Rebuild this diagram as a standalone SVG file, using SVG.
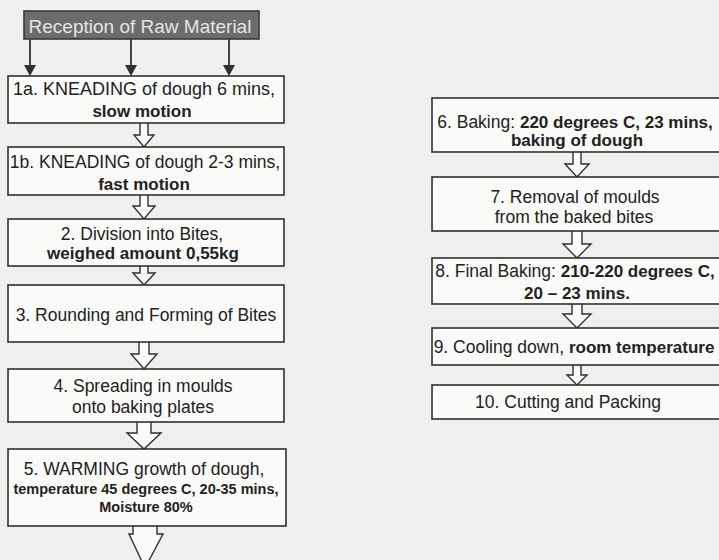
<svg xmlns="http://www.w3.org/2000/svg" width="719" height="560" viewBox="0 0 719 560">
<style>
.bg{fill:#efefed}
.box{fill:#fafaf8;stroke:#303030;stroke-width:1.6}
.hdr{fill:#6c6c6c;stroke:#3a3a3a;stroke-width:1.6}
.t{font-family:"Liberation Sans",Arial,sans-serif;font-size:17.5px;fill:#222;text-anchor:middle}
.b{font-weight:bold;font-size:17px}
.s{font-weight:bold;font-size:14.5px}
.ht{font-family:"Liberation Sans",Arial,sans-serif;font-size:19px;fill:#e4e4e4;text-anchor:middle}
.ln{stroke:#303030;stroke-width:1.8;fill:none}
.ha{fill:#fafaf8;stroke:#303030;stroke-width:1.4;stroke-linejoin:miter}
</style>
<rect class="bg" x="0" y="0" width="719" height="560"/>

<g id="connectors">
<line class="ln" x1="30" y1="39" x2="30" y2="66"/>
<path d="M24,65 L36,65 L30,76 Z" fill="#303030"/>
<line class="ln" x1="131" y1="39" x2="131" y2="66"/>
<path d="M125,65 L137,65 L131,76 Z" fill="#303030"/>
<line class="ln" x1="229" y1="39" x2="229" y2="66"/>
<path d="M223,65 L235,65 L229,76 Z" fill="#303030"/>
<path class="ha" d="M140,123 L140,135 L134,135 L144,147 L154,135 L148,135 L148,123"/>
<path class="ha" d="M140,195 L140,206 L133,206 L144,219 L155,206 L148,206 L148,195"/>
<path class="ha" d="M140,266 L140,273 L133,273 L144,285 L155,273 L148,273 L148,266"/>
<path class="ha" d="M139,342 L139,354 L131,354 L144,369 L157,354 L149,354 L149,342"/>
<path class="ha" d="M137,422 L137,433 L127,433 L144,449 L161,433 L151,433 L151,422"/>
<path class="ha" d="M133,526 L133,534 L129,534 L145,568 L163,534 L157,534 L157,526"/>
<path class="ha" d="M573,152 L573,164 L565,164 L577,177 L589,164 L581,164 L581,152"/>
<path class="ha" d="M572,231 L572,244 L563,244 L577,258 L591,244 L582,244 L582,231"/>
<path class="ha" d="M572,304 L572,314 L563,314 L577,328 L591,314 L582,314 L582,304"/>
<path class="ha" d="M573,365 L573,375 L567,375 L577,385 L587,375 L581,375 L581,365"/>
</g>

<g id="n0">
<rect class="hdr" x="24" y="11" width="235" height="28"/>
<text class="ht" x="140" y="33">Reception of Raw Material</text>
</g>
<g id="n1a">
<rect class="box" x="8" y="76" width="276" height="47"/>
<text class="t" x="144" y="95" style="font-size:18px">1a. KNEADING of dough 6 mins,</text>
<text class="t b" x="142" y="117">slow motion</text>
</g>
<g id="n1b">
<rect class="box" x="8" y="147" width="276" height="48"/>
<text class="t" x="145" y="168" style="font-size:17.5px">1b. KNEADING of dough 2-3 mins,</text>
<text class="t b" x="144" y="190">fast motion</text>
</g>
<g id="n2">
<rect class="box" x="8" y="219" width="276" height="47"/>
<text class="t" x="142" y="240">2. Division into Bites,</text>
<text class="t b" x="143" y="259">weighed amount 0,55kg</text>
</g>
<g id="n3">
<rect class="box" x="8" y="285" width="276" height="57"/>
<text class="t" x="146" y="321">3. Rounding and Forming of Bites</text>
</g>
<g id="n4">
<rect class="box" x="8" y="369" width="276" height="53"/>
<text class="t" x="143" y="392">4. Spreading in moulds</text>
<text class="t" x="143" y="413">onto baking plates</text>
</g>
<g id="n5">
<rect class="box" x="8" y="449" width="278" height="77"/>
<text class="t" x="144" y="475">5. WARMING growth of dough,</text>
<text class="t s" x="146" y="494">temperature 45 degrees C, 20-35 mins,</text>
<text class="t s" x="146" y="512">Moisture 80%</text>
</g>
<g id="n6">
<rect class="box" x="432" y="98" width="300" height="54"/>
<text class="t" x="575" y="128">6. Baking: <tspan class="b">220 degrees C, 23 mins,</tspan></text>
<text class="t b" x="577" y="146">baking of dough</text>
</g>
<g id="n7">
<rect class="box" x="432" y="177" width="300" height="54"/>
<text class="t" x="575" y="203">7. Removal of moulds</text>
<text class="t" x="574" y="223">from the baked bites</text>
</g>
<g id="n8">
<rect class="box" x="432" y="258" width="300" height="46"/>
<text class="t" x="575" y="277">8. Final Baking: <tspan class="b">210-220 degrees C,</tspan></text>
<text class="t b" x="577" y="299">20 – 23 mins.</text>
</g>
<g id="n9">
<rect class="box" x="432" y="328" width="300" height="37"/>
<text class="t" x="574" y="353">9. Cooling down, <tspan class="b">room temperature</tspan></text>
</g>
<g id="n10">
<rect class="box" x="432" y="385" width="300" height="34"/>
<text class="t" x="568" y="408">10. Cutting and Packing</text>
</g>
</svg>
